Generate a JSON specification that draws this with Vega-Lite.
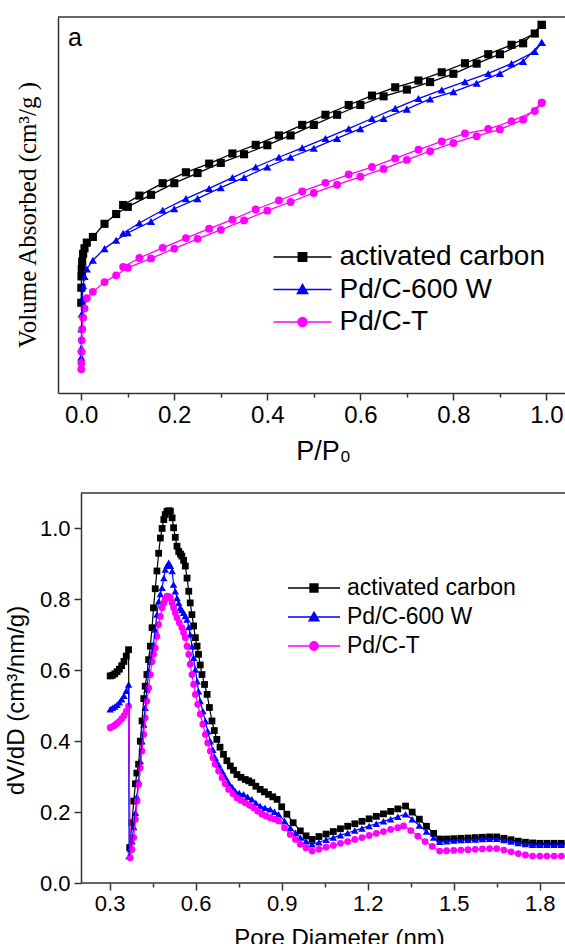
{
"$schema": "https://vega.github.io/schema/vega-lite/v6.json",
"padding": {"left": 4, "top": 16, "right": 0, "bottom": 0},
"spacing": 28,
"config": {
  "font": "Liberation Sans",
  "view": {"stroke": null},
  "axis": {"domainColor": "#333333", "domainWidth": 1.5, "tickColor": "#333333", "tickWidth": 1.5, "labelColor": "#000000", "titleColor": "#000000", "grid": false, "labelFont": "Liberation Sans", "titleFont": "Liberation Sans", "titleFontWeight": "normal"}
},
"resolve": {"scale": {"x": "independent", "y": "independent", "color": "independent"}, "legend": {"color": "independent"}},
"datasets": {
"iso": [
{"s":"activated carbon","b":"ads","P":0.00005,"V":24},{"s":"activated carbon","b":"ads","P":0.0002,"V":28},{"s":"activated carbon","b":"ads","P":0.0005,"V":31},{"s":"activated carbon","b":"ads","P":0.001,"V":33},{"s":"activated carbon","b":"ads","P":0.002,"V":35},{"s":"activated carbon","b":"ads","P":0.004,"V":37},{"s":"activated carbon","b":"ads","P":0.007,"V":38.5},{"s":"activated carbon","b":"ads","P":0.012,"V":40},{"s":"activated carbon","b":"ads","P":0.025,"V":41.5},{"s":"activated carbon","b":"ads","P":0.05,"V":45.0},{"s":"activated carbon","b":"ads","P":0.075,"V":47.6},{"s":"activated carbon","b":"ads","P":0.1,"V":49.5},{"s":"activated carbon","b":"ads","P":0.15,"V":52.7},{"s":"activated carbon","b":"ads","P":0.2,"V":55.8},{"s":"activated carbon","b":"ads","P":0.25,"V":58.5},{"s":"activated carbon","b":"ads","P":0.3,"V":61.2},{"s":"activated carbon","b":"ads","P":0.35,"V":63.5},{"s":"activated carbon","b":"ads","P":0.4,"V":65.9},{"s":"activated carbon","b":"ads","P":0.45,"V":68.5},{"s":"activated carbon","b":"ads","P":0.5,"V":71.3},{"s":"activated carbon","b":"ads","P":0.55,"V":74.0},{"s":"activated carbon","b":"ads","P":0.6,"V":76.6},{"s":"activated carbon","b":"ads","P":0.65,"V":78.9},{"s":"activated carbon","b":"ads","P":0.7,"V":80.7},{"s":"activated carbon","b":"ads","P":0.75,"V":82.7},{"s":"activated carbon","b":"ads","P":0.8,"V":84.9},{"s":"activated carbon","b":"ads","P":0.85,"V":87.6},{"s":"activated carbon","b":"ads","P":0.9,"V":90.1},{"s":"activated carbon","b":"ads","P":0.95,"V":93.0},{"s":"activated carbon","b":"ads","P":0.99,"V":97.9},
{"s":"activated carbon","b":"des","P":0.09,"V":50.0},{"s":"activated carbon","b":"des","P":0.125,"V":52.5},{"s":"activated carbon","b":"des","P":0.175,"V":55.8},{"s":"activated carbon","b":"des","P":0.225,"V":58.7},{"s":"activated carbon","b":"des","P":0.275,"V":61.0},{"s":"activated carbon","b":"des","P":0.325,"V":63.7},{"s":"activated carbon","b":"des","P":0.375,"V":66.0},{"s":"activated carbon","b":"des","P":0.425,"V":68.5},{"s":"activated carbon","b":"des","P":0.475,"V":71.3},{"s":"activated carbon","b":"des","P":0.525,"V":74.0},{"s":"activated carbon","b":"des","P":0.575,"V":76.6},{"s":"activated carbon","b":"des","P":0.625,"V":79.1},{"s":"activated carbon","b":"des","P":0.675,"V":81.3},{"s":"activated carbon","b":"des","P":0.725,"V":83.1},{"s":"activated carbon","b":"des","P":0.775,"V":85.3},{"s":"activated carbon","b":"des","P":0.825,"V":87.7},{"s":"activated carbon","b":"des","P":0.875,"V":90.1},{"s":"activated carbon","b":"des","P":0.925,"V":92.6},{"s":"activated carbon","b":"des","P":0.975,"V":95.6},{"s":"activated carbon","b":"des","P":0.99,"V":97.9},
{"s":"Pd/C-600 W","b":"ads","P":0.00005,"V":9.5},{"s":"Pd/C-600 W","b":"ads","P":0.0002,"V":12},{"s":"Pd/C-600 W","b":"ads","P":0.0005,"V":17},{"s":"Pd/C-600 W","b":"ads","P":0.001,"V":21},{"s":"Pd/C-600 W","b":"ads","P":0.002,"V":25},{"s":"Pd/C-600 W","b":"ads","P":0.004,"V":28.5},{"s":"Pd/C-600 W","b":"ads","P":0.007,"V":31},{"s":"Pd/C-600 W","b":"ads","P":0.012,"V":33},{"s":"Pd/C-600 W","b":"ads","P":0.025,"V":35.3},{"s":"Pd/C-600 W","b":"ads","P":0.05,"V":38.4},{"s":"Pd/C-600 W","b":"ads","P":0.075,"V":40.6},{"s":"Pd/C-600 W","b":"ads","P":0.1,"V":42.6},{"s":"Pd/C-600 W","b":"ads","P":0.15,"V":45.6},{"s":"Pd/C-600 W","b":"ads","P":0.2,"V":49.0},{"s":"Pd/C-600 W","b":"ads","P":0.25,"V":51.7},{"s":"Pd/C-600 W","b":"ads","P":0.3,"V":54.6},{"s":"Pd/C-600 W","b":"ads","P":0.35,"V":57.3},{"s":"Pd/C-600 W","b":"ads","P":0.4,"V":60.1},{"s":"Pd/C-600 W","b":"ads","P":0.45,"V":62.7},{"s":"Pd/C-600 W","b":"ads","P":0.5,"V":65.1},{"s":"Pd/C-600 W","b":"ads","P":0.55,"V":67.7},{"s":"Pd/C-600 W","b":"ads","P":0.6,"V":70.3},{"s":"Pd/C-600 W","b":"ads","P":0.65,"V":73.0},{"s":"Pd/C-600 W","b":"ads","P":0.7,"V":75.5},{"s":"Pd/C-600 W","b":"ads","P":0.75,"V":78.2},{"s":"Pd/C-600 W","b":"ads","P":0.8,"V":80.1},{"s":"Pd/C-600 W","b":"ads","P":0.85,"V":82.4},{"s":"Pd/C-600 W","b":"ads","P":0.9,"V":85.0},{"s":"Pd/C-600 W","b":"ads","P":0.95,"V":88.2},{"s":"Pd/C-600 W","b":"ads","P":0.99,"V":93.2},
{"s":"Pd/C-600 W","b":"des","P":0.09,"V":42.5},{"s":"Pd/C-600 W","b":"des","P":0.125,"V":45.2},{"s":"Pd/C-600 W","b":"des","P":0.175,"V":48.6},{"s":"Pd/C-600 W","b":"des","P":0.225,"V":51.7},{"s":"Pd/C-600 W","b":"des","P":0.275,"V":54.4},{"s":"Pd/C-600 W","b":"des","P":0.325,"V":57.3},{"s":"Pd/C-600 W","b":"des","P":0.375,"V":60.1},{"s":"Pd/C-600 W","b":"des","P":0.425,"V":62.7},{"s":"Pd/C-600 W","b":"des","P":0.475,"V":65.2},{"s":"Pd/C-600 W","b":"des","P":0.525,"V":67.7},{"s":"Pd/C-600 W","b":"des","P":0.575,"V":70.3},{"s":"Pd/C-600 W","b":"des","P":0.625,"V":73.0},{"s":"Pd/C-600 W","b":"des","P":0.675,"V":75.7},{"s":"Pd/C-600 W","b":"des","P":0.725,"V":78.3},{"s":"Pd/C-600 W","b":"des","P":0.775,"V":80.6},{"s":"Pd/C-600 W","b":"des","P":0.825,"V":82.8},{"s":"Pd/C-600 W","b":"des","P":0.875,"V":85.0},{"s":"Pd/C-600 W","b":"des","P":0.925,"V":87.6},{"s":"Pd/C-600 W","b":"des","P":0.975,"V":90.8},{"s":"Pd/C-600 W","b":"des","P":0.99,"V":93.2},
{"s":"Pd/C-T","b":"ads","P":0.00005,"V":6.3},{"s":"Pd/C-T","b":"ads","P":0.0002,"V":8},{"s":"Pd/C-T","b":"ads","P":0.0005,"V":11},{"s":"Pd/C-T","b":"ads","P":0.001,"V":14},{"s":"Pd/C-T","b":"ads","P":0.002,"V":17},{"s":"Pd/C-T","b":"ads","P":0.004,"V":20},{"s":"Pd/C-T","b":"ads","P":0.007,"V":22.5},{"s":"Pd/C-T","b":"ads","P":0.012,"V":25.2},{"s":"Pd/C-T","b":"ads","P":0.025,"V":26.9},{"s":"Pd/C-T","b":"ads","P":0.05,"V":29.5},{"s":"Pd/C-T","b":"ads","P":0.075,"V":31.3},{"s":"Pd/C-T","b":"ads","P":0.1,"V":33.3},{"s":"Pd/C-T","b":"ads","P":0.15,"V":35.8},{"s":"Pd/C-T","b":"ads","P":0.2,"V":38.4},{"s":"Pd/C-T","b":"ads","P":0.25,"V":41.0},{"s":"Pd/C-T","b":"ads","P":0.3,"V":43.4},{"s":"Pd/C-T","b":"ads","P":0.35,"V":45.9},{"s":"Pd/C-T","b":"ads","P":0.4,"V":48.5},{"s":"Pd/C-T","b":"ads","P":0.45,"V":50.8},{"s":"Pd/C-T","b":"ads","P":0.5,"V":53.2},{"s":"Pd/C-T","b":"ads","P":0.55,"V":55.4},{"s":"Pd/C-T","b":"ads","P":0.6,"V":57.5},{"s":"Pd/C-T","b":"ads","P":0.65,"V":59.6},{"s":"Pd/C-T","b":"ads","P":0.7,"V":62.0},{"s":"Pd/C-T","b":"ads","P":0.75,"V":64.3},{"s":"Pd/C-T","b":"ads","P":0.8,"V":66.5},{"s":"Pd/C-T","b":"ads","P":0.85,"V":68.3},{"s":"Pd/C-T","b":"ads","P":0.9,"V":70.1},{"s":"Pd/C-T","b":"ads","P":0.95,"V":72.7},{"s":"Pd/C-T","b":"ads","P":0.99,"V":77.2},
{"s":"Pd/C-T","b":"des","P":0.09,"V":33.5},{"s":"Pd/C-T","b":"des","P":0.125,"V":35.9},{"s":"Pd/C-T","b":"des","P":0.175,"V":38.6},{"s":"Pd/C-T","b":"des","P":0.225,"V":41.2},{"s":"Pd/C-T","b":"des","P":0.275,"V":43.7},{"s":"Pd/C-T","b":"des","P":0.325,"V":46.1},{"s":"Pd/C-T","b":"des","P":0.375,"V":48.8},{"s":"Pd/C-T","b":"des","P":0.425,"V":51.2},{"s":"Pd/C-T","b":"des","P":0.475,"V":53.6},{"s":"Pd/C-T","b":"des","P":0.525,"V":55.9},{"s":"Pd/C-T","b":"des","P":0.575,"V":58.1},{"s":"Pd/C-T","b":"des","P":0.625,"V":60.1},{"s":"Pd/C-T","b":"des","P":0.675,"V":62.4},{"s":"Pd/C-T","b":"des","P":0.725,"V":64.7},{"s":"Pd/C-T","b":"des","P":0.775,"V":66.9},{"s":"Pd/C-T","b":"des","P":0.825,"V":69.0},{"s":"Pd/C-T","b":"des","P":0.875,"V":70.2},{"s":"Pd/C-T","b":"des","P":0.925,"V":72.3},{"s":"Pd/C-T","b":"des","P":0.975,"V":75.0},{"s":"Pd/C-T","b":"des","P":0.99,"V":77.2}
],
"psd": [
{"s":"activated carbon","D":0.302,"v":0.584},{"s":"activated carbon","D":0.31,"v":0.586},{"s":"activated carbon","D":0.318,"v":0.59},{"s":"activated carbon","D":0.326,"v":0.596},{"s":"activated carbon","D":0.334,"v":0.603},{"s":"activated carbon","D":0.342,"v":0.613},{"s":"activated carbon","D":0.35,"v":0.625},{"s":"activated carbon","D":0.358,"v":0.64},{"s":"activated carbon","D":0.366,"v":0.658},{"s":"activated carbon","D":0.37,"v":0.1},{"s":"activated carbon","D":0.378,"v":0.17},{"s":"activated carbon","D":0.384,"v":0.231},{"s":"activated carbon","D":0.39,"v":0.28},{"s":"activated carbon","D":0.395,"v":0.31},{"s":"activated carbon","D":0.401,"v":0.335},{"s":"activated carbon","D":0.407,"v":0.4},{"s":"activated carbon","D":0.413,"v":0.457},{"s":"activated carbon","D":0.419,"v":0.52},{"s":"activated carbon","D":0.424,"v":0.555},{"s":"activated carbon","D":0.43,"v":0.588},{"s":"activated carbon","D":0.436,"v":0.63},{"s":"activated carbon","D":0.442,"v":0.668},{"s":"activated carbon","D":0.448,"v":0.72},{"s":"activated carbon","D":0.453,"v":0.776},{"s":"activated carbon","D":0.459,"v":0.83},{"s":"activated carbon","D":0.465,"v":0.88},{"s":"activated carbon","D":0.471,"v":0.93},{"s":"activated carbon","D":0.477,"v":0.973},{"s":"activated carbon","D":0.483,"v":1.0},{"s":"activated carbon","D":0.489,"v":1.025},{"s":"activated carbon","D":0.494,"v":1.039},{"s":"activated carbon","D":0.5,"v":1.048},{"s":"activated carbon","D":0.506,"v":1.05},{"s":"activated carbon","D":0.512,"v":1.049},{"s":"activated carbon","D":0.518,"v":1.03},{"s":"activated carbon","D":0.523,"v":1.002},{"s":"activated carbon","D":0.529,"v":0.975},{"s":"activated carbon","D":0.535,"v":0.95},{"s":"activated carbon","D":0.541,"v":0.935},{"s":"activated carbon","D":0.547,"v":0.928},{"s":"activated carbon","D":0.552,"v":0.922},{"s":"activated carbon","D":0.558,"v":0.91},{"s":"activated carbon","D":0.564,"v":0.894},{"s":"activated carbon","D":0.57,"v":0.86},{"s":"activated carbon","D":0.576,"v":0.823},{"s":"activated carbon","D":0.581,"v":0.79},{"s":"activated carbon","D":0.587,"v":0.757},{"s":"activated carbon","D":0.593,"v":0.725},{"s":"activated carbon","D":0.599,"v":0.692},{"s":"activated carbon","D":0.605,"v":0.668},{"s":"activated carbon","D":0.61,"v":0.645},{"s":"activated carbon","D":0.616,"v":0.615},{"s":"activated carbon","D":0.622,"v":0.588},{"s":"activated carbon","D":0.631,"v":0.56},{"s":"activated carbon","D":0.64,"v":0.532},{"s":"activated carbon","D":0.648,"v":0.495},{"s":"activated carbon","D":0.657,"v":0.457},{"s":"activated carbon","D":0.665,"v":0.43},{"s":"activated carbon","D":0.674,"v":0.405},{"s":"activated carbon","D":0.685,"v":0.383},{"s":"activated carbon","D":0.697,"v":0.363},{"s":"activated carbon","D":0.709,"v":0.345},{"s":"activated carbon","D":0.721,"v":0.33},{"s":"activated carbon","D":0.732,"v":0.318},{"s":"activated carbon","D":0.744,"v":0.306},{"s":"activated carbon","D":0.758,"v":0.298},{"s":"activated carbon","D":0.773,"v":0.292},{"s":"activated carbon","D":0.785,"v":0.288},{"s":"activated carbon","D":0.796,"v":0.283},{"s":"activated carbon","D":0.81,"v":0.273},{"s":"activated carbon","D":0.825,"v":0.264},{"s":"activated carbon","D":0.84,"v":0.257},{"s":"activated carbon","D":0.854,"v":0.25},{"s":"activated carbon","D":0.869,"v":0.243},{"s":"activated carbon","D":0.884,"v":0.236},{"s":"activated carbon","D":0.9,"v":0.215},{"s":"activated carbon","D":0.918,"v":0.194},{"s":"activated carbon","D":0.94,"v":0.17},{"s":"activated carbon","D":0.965,"v":0.147},{"s":"activated carbon","D":0.985,"v":0.133},{"s":"activated carbon","D":1.006,"v":0.123},{"s":"activated carbon","D":1.03,"v":0.131},{"s":"activated carbon","D":1.055,"v":0.138},{"s":"activated carbon","D":1.08,"v":0.145},{"s":"activated carbon","D":1.105,"v":0.153},{"s":"activated carbon","D":1.13,"v":0.16},{"s":"activated carbon","D":1.155,"v":0.167},{"s":"activated carbon","D":1.18,"v":0.174},{"s":"activated carbon","D":1.205,"v":0.181},{"s":"activated carbon","D":1.23,"v":0.188},{"s":"activated carbon","D":1.255,"v":0.195},{"s":"activated carbon","D":1.28,"v":0.202},{"s":"activated carbon","D":1.305,"v":0.209},{"s":"activated carbon","D":1.332,"v":0.217},{"s":"activated carbon","D":1.355,"v":0.2},{"s":"activated carbon","D":1.38,"v":0.18},{"s":"activated carbon","D":1.405,"v":0.16},{"s":"activated carbon","D":1.43,"v":0.14},{"s":"activated carbon","D":1.451,"v":0.124},{"s":"activated carbon","D":1.475,"v":0.124},{"s":"activated carbon","D":1.5,"v":0.125},{"s":"activated carbon","D":1.525,"v":0.126},{"s":"activated carbon","D":1.55,"v":0.127},{"s":"activated carbon","D":1.575,"v":0.128},{"s":"activated carbon","D":1.6,"v":0.129},{"s":"activated carbon","D":1.625,"v":0.13},{"s":"activated carbon","D":1.65,"v":0.13},{"s":"activated carbon","D":1.675,"v":0.126},{"s":"activated carbon","D":1.7,"v":0.122},{"s":"activated carbon","D":1.725,"v":0.118},{"s":"activated carbon","D":1.75,"v":0.115},{"s":"activated carbon","D":1.775,"v":0.113},{"s":"activated carbon","D":1.8,"v":0.112},{"s":"activated carbon","D":1.825,"v":0.112},{"s":"activated carbon","D":1.85,"v":0.112},{"s":"activated carbon","D":1.875,"v":0.112},{"s":"activated carbon","D":1.9,"v":0.112},
{"s":"Pd/C-600 W","D":0.302,"v":0.49},{"s":"Pd/C-600 W","D":0.31,"v":0.494},{"s":"Pd/C-600 W","D":0.318,"v":0.498},{"s":"Pd/C-600 W","D":0.326,"v":0.503},{"s":"Pd/C-600 W","D":0.334,"v":0.51},{"s":"Pd/C-600 W","D":0.342,"v":0.518},{"s":"Pd/C-600 W","D":0.35,"v":0.528},{"s":"Pd/C-600 W","D":0.358,"v":0.542},{"s":"Pd/C-600 W","D":0.366,"v":0.56},{"s":"Pd/C-600 W","D":0.368,"v":0.076},{"s":"Pd/C-600 W","D":0.373,"v":0.095},{"s":"Pd/C-600 W","D":0.378,"v":0.118},{"s":"Pd/C-600 W","D":0.384,"v":0.158},{"s":"Pd/C-600 W","D":0.39,"v":0.198},{"s":"Pd/C-600 W","D":0.395,"v":0.243},{"s":"Pd/C-600 W","D":0.401,"v":0.288},{"s":"Pd/C-600 W","D":0.407,"v":0.344},{"s":"Pd/C-600 W","D":0.413,"v":0.4},{"s":"Pd/C-600 W","D":0.419,"v":0.447},{"s":"Pd/C-600 W","D":0.424,"v":0.494},{"s":"Pd/C-600 W","D":0.43,"v":0.546},{"s":"Pd/C-600 W","D":0.436,"v":0.598},{"s":"Pd/C-600 W","D":0.442,"v":0.625},{"s":"Pd/C-600 W","D":0.448,"v":0.65},{"s":"Pd/C-600 W","D":0.453,"v":0.673},{"s":"Pd/C-600 W","D":0.459,"v":0.715},{"s":"Pd/C-600 W","D":0.465,"v":0.757},{"s":"Pd/C-600 W","D":0.471,"v":0.795},{"s":"Pd/C-600 W","D":0.477,"v":0.815},{"s":"Pd/C-600 W","D":0.483,"v":0.833},{"s":"Pd/C-600 W","D":0.489,"v":0.86},{"s":"Pd/C-600 W","D":0.494,"v":0.884},{"s":"Pd/C-600 W","D":0.5,"v":0.895},{"s":"Pd/C-600 W","D":0.506,"v":0.903},{"s":"Pd/C-600 W","D":0.512,"v":0.895},{"s":"Pd/C-600 W","D":0.518,"v":0.88},{"s":"Pd/C-600 W","D":0.523,"v":0.842},{"s":"Pd/C-600 W","D":0.529,"v":0.823},{"s":"Pd/C-600 W","D":0.535,"v":0.804},{"s":"Pd/C-600 W","D":0.541,"v":0.79},{"s":"Pd/C-600 W","D":0.546,"v":0.776},{"s":"Pd/C-600 W","D":0.552,"v":0.77},{"s":"Pd/C-600 W","D":0.558,"v":0.762},{"s":"Pd/C-600 W","D":0.564,"v":0.753},{"s":"Pd/C-600 W","D":0.57,"v":0.743},{"s":"Pd/C-600 W","D":0.576,"v":0.722},{"s":"Pd/C-600 W","D":0.581,"v":0.701},{"s":"Pd/C-600 W","D":0.587,"v":0.668},{"s":"Pd/C-600 W","D":0.593,"v":0.635},{"s":"Pd/C-600 W","D":0.599,"v":0.602},{"s":"Pd/C-600 W","D":0.605,"v":0.569},{"s":"Pd/C-600 W","D":0.61,"v":0.541},{"s":"Pd/C-600 W","D":0.616,"v":0.513},{"s":"Pd/C-600 W","D":0.625,"v":0.485},{"s":"Pd/C-600 W","D":0.634,"v":0.457},{"s":"Pd/C-600 W","D":0.642,"v":0.428},{"s":"Pd/C-600 W","D":0.651,"v":0.4},{"s":"Pd/C-600 W","D":0.66,"v":0.376},{"s":"Pd/C-600 W","D":0.668,"v":0.353},{"s":"Pd/C-600 W","D":0.68,"v":0.334},{"s":"Pd/C-600 W","D":0.692,"v":0.316},{"s":"Pd/C-600 W","D":0.703,"v":0.3},{"s":"Pd/C-600 W","D":0.715,"v":0.283},{"s":"Pd/C-600 W","D":0.727,"v":0.271},{"s":"Pd/C-600 W","D":0.738,"v":0.259},{"s":"Pd/C-600 W","D":0.752,"v":0.254},{"s":"Pd/C-600 W","D":0.767,"v":0.25},{"s":"Pd/C-600 W","D":0.781,"v":0.243},{"s":"Pd/C-600 W","D":0.796,"v":0.236},{"s":"Pd/C-600 W","D":0.81,"v":0.226},{"s":"Pd/C-600 W","D":0.825,"v":0.217},{"s":"Pd/C-600 W","D":0.842,"v":0.212},{"s":"Pd/C-600 W","D":0.86,"v":0.208},{"s":"Pd/C-600 W","D":0.875,"v":0.201},{"s":"Pd/C-600 W","D":0.889,"v":0.194},{"s":"Pd/C-600 W","D":0.91,"v":0.175},{"s":"Pd/C-600 W","D":0.93,"v":0.156},{"s":"Pd/C-600 W","D":0.948,"v":0.142},{"s":"Pd/C-600 W","D":0.965,"v":0.128},{"s":"Pd/C-600 W","D":0.985,"v":0.118},{"s":"Pd/C-600 W","D":1.006,"v":0.109},{"s":"Pd/C-600 W","D":1.03,"v":0.115},{"s":"Pd/C-600 W","D":1.055,"v":0.122},{"s":"Pd/C-600 W","D":1.08,"v":0.128},{"s":"Pd/C-600 W","D":1.105,"v":0.135},{"s":"Pd/C-600 W","D":1.13,"v":0.141},{"s":"Pd/C-600 W","D":1.155,"v":0.148},{"s":"Pd/C-600 W","D":1.18,"v":0.154},{"s":"Pd/C-600 W","D":1.205,"v":0.161},{"s":"Pd/C-600 W","D":1.23,"v":0.167},{"s":"Pd/C-600 W","D":1.255,"v":0.174},{"s":"Pd/C-600 W","D":1.28,"v":0.18},{"s":"Pd/C-600 W","D":1.305,"v":0.187},{"s":"Pd/C-600 W","D":1.332,"v":0.194},{"s":"Pd/C-600 W","D":1.355,"v":0.18},{"s":"Pd/C-600 W","D":1.38,"v":0.162},{"s":"Pd/C-600 W","D":1.405,"v":0.145},{"s":"Pd/C-600 W","D":1.43,"v":0.128},{"s":"Pd/C-600 W","D":1.451,"v":0.116},{"s":"Pd/C-600 W","D":1.475,"v":0.118},{"s":"Pd/C-600 W","D":1.5,"v":0.12},{"s":"Pd/C-600 W","D":1.525,"v":0.121},{"s":"Pd/C-600 W","D":1.55,"v":0.122},{"s":"Pd/C-600 W","D":1.575,"v":0.123},{"s":"Pd/C-600 W","D":1.6,"v":0.124},{"s":"Pd/C-600 W","D":1.625,"v":0.125},{"s":"Pd/C-600 W","D":1.65,"v":0.125},{"s":"Pd/C-600 W","D":1.675,"v":0.121},{"s":"Pd/C-600 W","D":1.7,"v":0.117},{"s":"Pd/C-600 W","D":1.725,"v":0.113},{"s":"Pd/C-600 W","D":1.75,"v":0.11},{"s":"Pd/C-600 W","D":1.775,"v":0.108},{"s":"Pd/C-600 W","D":1.8,"v":0.108},{"s":"Pd/C-600 W","D":1.825,"v":0.108},{"s":"Pd/C-600 W","D":1.85,"v":0.108},{"s":"Pd/C-600 W","D":1.875,"v":0.108},{"s":"Pd/C-600 W","D":1.9,"v":0.108},
{"s":"Pd/C-T","D":0.302,"v":0.438},{"s":"Pd/C-T","D":0.31,"v":0.441},{"s":"Pd/C-T","D":0.318,"v":0.445},{"s":"Pd/C-T","D":0.326,"v":0.45},{"s":"Pd/C-T","D":0.334,"v":0.456},{"s":"Pd/C-T","D":0.342,"v":0.463},{"s":"Pd/C-T","D":0.35,"v":0.472},{"s":"Pd/C-T","D":0.358,"v":0.484},{"s":"Pd/C-T","D":0.366,"v":0.499},{"s":"Pd/C-T","D":0.372,"v":0.071},{"s":"Pd/C-T","D":0.378,"v":0.095},{"s":"Pd/C-T","D":0.384,"v":0.128},{"s":"Pd/C-T","D":0.39,"v":0.18},{"s":"Pd/C-T","D":0.396,"v":0.231},{"s":"Pd/C-T","D":0.401,"v":0.278},{"s":"Pd/C-T","D":0.407,"v":0.325},{"s":"Pd/C-T","D":0.413,"v":0.372},{"s":"Pd/C-T","D":0.419,"v":0.419},{"s":"Pd/C-T","D":0.424,"v":0.466},{"s":"Pd/C-T","D":0.43,"v":0.513},{"s":"Pd/C-T","D":0.436,"v":0.55},{"s":"Pd/C-T","D":0.442,"v":0.588},{"s":"Pd/C-T","D":0.448,"v":0.625},{"s":"Pd/C-T","D":0.453,"v":0.645},{"s":"Pd/C-T","D":0.459,"v":0.663},{"s":"Pd/C-T","D":0.465,"v":0.696},{"s":"Pd/C-T","D":0.471,"v":0.729},{"s":"Pd/C-T","D":0.477,"v":0.752},{"s":"Pd/C-T","D":0.483,"v":0.776},{"s":"Pd/C-T","D":0.489,"v":0.79},{"s":"Pd/C-T","D":0.494,"v":0.8},{"s":"Pd/C-T","D":0.5,"v":0.809},{"s":"Pd/C-T","D":0.506,"v":0.808},{"s":"Pd/C-T","D":0.512,"v":0.804},{"s":"Pd/C-T","D":0.518,"v":0.79},{"s":"Pd/C-T","D":0.523,"v":0.776},{"s":"Pd/C-T","D":0.529,"v":0.762},{"s":"Pd/C-T","D":0.535,"v":0.748},{"s":"Pd/C-T","D":0.543,"v":0.734},{"s":"Pd/C-T","D":0.552,"v":0.72},{"s":"Pd/C-T","D":0.558,"v":0.706},{"s":"Pd/C-T","D":0.564,"v":0.692},{"s":"Pd/C-T","D":0.57,"v":0.668},{"s":"Pd/C-T","D":0.576,"v":0.645},{"s":"Pd/C-T","D":0.581,"v":0.617},{"s":"Pd/C-T","D":0.587,"v":0.588},{"s":"Pd/C-T","D":0.593,"v":0.56},{"s":"Pd/C-T","D":0.599,"v":0.532},{"s":"Pd/C-T","D":0.607,"v":0.504},{"s":"Pd/C-T","D":0.616,"v":0.476},{"s":"Pd/C-T","D":0.625,"v":0.448},{"s":"Pd/C-T","D":0.634,"v":0.419},{"s":"Pd/C-T","D":0.642,"v":0.395},{"s":"Pd/C-T","D":0.651,"v":0.372},{"s":"Pd/C-T","D":0.66,"v":0.353},{"s":"Pd/C-T","D":0.668,"v":0.335},{"s":"Pd/C-T","D":0.68,"v":0.316},{"s":"Pd/C-T","D":0.692,"v":0.297},{"s":"Pd/C-T","D":0.703,"v":0.28},{"s":"Pd/C-T","D":0.715,"v":0.264},{"s":"Pd/C-T","D":0.73,"v":0.252},{"s":"Pd/C-T","D":0.744,"v":0.24},{"s":"Pd/C-T","D":0.758,"v":0.233},{"s":"Pd/C-T","D":0.773,"v":0.226},{"s":"Pd/C-T","D":0.788,"v":0.219},{"s":"Pd/C-T","D":0.802,"v":0.212},{"s":"Pd/C-T","D":0.816,"v":0.203},{"s":"Pd/C-T","D":0.831,"v":0.194},{"s":"Pd/C-T","D":0.845,"v":0.189},{"s":"Pd/C-T","D":0.86,"v":0.184},{"s":"Pd/C-T","D":0.875,"v":0.18},{"s":"Pd/C-T","D":0.889,"v":0.175},{"s":"Pd/C-T","D":0.91,"v":0.156},{"s":"Pd/C-T","D":0.93,"v":0.137},{"s":"Pd/C-T","D":0.948,"v":0.123},{"s":"Pd/C-T","D":0.965,"v":0.109},{"s":"Pd/C-T","D":0.985,"v":0.099},{"s":"Pd/C-T","D":1.006,"v":0.09},{"s":"Pd/C-T","D":1.03,"v":0.095},{"s":"Pd/C-T","D":1.055,"v":0.101},{"s":"Pd/C-T","D":1.08,"v":0.106},{"s":"Pd/C-T","D":1.105,"v":0.112},{"s":"Pd/C-T","D":1.13,"v":0.117},{"s":"Pd/C-T","D":1.155,"v":0.123},{"s":"Pd/C-T","D":1.18,"v":0.128},{"s":"Pd/C-T","D":1.205,"v":0.134},{"s":"Pd/C-T","D":1.23,"v":0.14},{"s":"Pd/C-T","D":1.255,"v":0.145},{"s":"Pd/C-T","D":1.28,"v":0.151},{"s":"Pd/C-T","D":1.305,"v":0.156},{"s":"Pd/C-T","D":1.325,"v":0.161},{"s":"Pd/C-T","D":1.35,"v":0.148},{"s":"Pd/C-T","D":1.375,"v":0.132},{"s":"Pd/C-T","D":1.4,"v":0.117},{"s":"Pd/C-T","D":1.425,"v":0.103},{"s":"Pd/C-T","D":1.451,"v":0.09},{"s":"Pd/C-T","D":1.475,"v":0.091},{"s":"Pd/C-T","D":1.5,"v":0.092},{"s":"Pd/C-T","D":1.525,"v":0.093},{"s":"Pd/C-T","D":1.55,"v":0.094},{"s":"Pd/C-T","D":1.575,"v":0.095},{"s":"Pd/C-T","D":1.6,"v":0.096},{"s":"Pd/C-T","D":1.625,"v":0.097},{"s":"Pd/C-T","D":1.65,"v":0.097},{"s":"Pd/C-T","D":1.675,"v":0.093},{"s":"Pd/C-T","D":1.7,"v":0.088},{"s":"Pd/C-T","D":1.725,"v":0.083},{"s":"Pd/C-T","D":1.75,"v":0.079},{"s":"Pd/C-T","D":1.775,"v":0.076},{"s":"Pd/C-T","D":1.8,"v":0.076},{"s":"Pd/C-T","D":1.825,"v":0.076},{"s":"Pd/C-T","D":1.85,"v":0.076},{"s":"Pd/C-T","D":1.875,"v":0.076},{"s":"Pd/C-T","D":1.9,"v":0.076}
]
},
"vconcat": [
{
  "width": 507,
  "height": 376,
  "layer": [
    {
      "data": {"name": "iso"},
      "transform": [{"filter": "datum.s === 'activated carbon'"}],
      "mark": {"type": "point", "filled": true, "opacity": 1, "size": 66, "shape": "square"},
      "encoding": {
        "x": {"field": "P", "type": "quantitative",
          "scale": {"domain": [-0.05, 1.04], "nice": false, "zero": false},
          "axis": {"values": [0, 0.1, 0.2, 0.3, 0.4, 0.5, 0.6, 0.7, 0.8, 0.9, 1.0], "format": ".1f",
            "labelExpr": "abs(datum.value*5-round(datum.value*5))<0.001 ? datum.label : ''",
            "labelOverlap": false, "labelFlush": false, "labelFontSize": 24, "labelPadding": 3,
            "tickSize": {"condition": {"test": "abs(datum.value*5-round(datum.value*5))<0.001", "value": 7}, "value": 4},
            "title": "P/P₀", "titleFontSize": 27, "titleX": 265, "titleY": 66, "titleBaseline": "alphabetic", "titleAlign": "center"}},
        "y": {"field": "V", "type": "quantitative",
          "scale": {"domain": [0, 100], "nice": false, "zero": false},
          "axis": {"labels": false, "ticks": false, "title": "Volume Absorbed (cm³/g )", "titleFont": "Liberation Serif", "titleFontSize": 25, "titleX": -22.7, "titleY": 197.5, "titleBaseline": "alphabetic", "titleAlign": "center"}},
        "color": {"field": "s", "type": "nominal", "scale": {"domain": ["activated carbon", "Pd/C-600 W", "Pd/C-T"], "range": ["#000000", "#0000ff", "#ff00ff"]},
          "legend": {"orient": "none", "legendX": 230.5, "legendY": 226, "title": null, "padding": 0, "symbolSize": 100, "labelFontSize": 28, "labelFont": "Liberation Sans", "labelColor": "#000000", "labelOffset": 23, "labelLimit": 400, "rowPadding": 4.5, "symbolStrokeWidth": 1.3, "symbolOpacity": 1,
            "symbolType": {"expr": "datum.value === 'activated carbon' ? 'M-5.8,0H5.8M-0.85,-0.85H0.85V0.85H-0.85Z' : datum.value === 'Pd/C-600 W' ? 'M-5.8,0H5.8M0,-1.05L1.05,0.8H-1.05Z' : 'M-5.8,0H5.8M-0.9,0A0.9,0.9,0,1,0,0.9,0A0.9,0.9,0,1,0,-0.9,0Z'"}}}
      }
    },
    {
      "data": {"name": "iso"},
      "transform": [{"filter": "datum.s === 'Pd/C-600 W'"}],
      "mark": {"type": "point", "filled": true, "opacity": 1, "size": 66, "shape": "triangle-up"},
      "encoding": {
        "x": {"field": "P", "type": "quantitative"},
        "y": {"field": "V", "type": "quantitative"},
        "color": {"field": "s", "type": "nominal", "scale": {"domain": ["activated carbon", "Pd/C-600 W", "Pd/C-T"], "range": ["#000000", "#0000ff", "#ff00ff"]}}
      }
    },
    {
      "data": {"name": "iso"},
      "transform": [{"filter": "datum.s === 'Pd/C-T'"}],
      "mark": {"type": "point", "filled": true, "opacity": 1, "size": 62, "shape": "circle"},
      "encoding": {
        "x": {"field": "P", "type": "quantitative"},
        "y": {"field": "V", "type": "quantitative"},
        "color": {"field": "s", "type": "nominal", "scale": {"domain": ["activated carbon", "Pd/C-600 W", "Pd/C-T"], "range": ["#000000", "#0000ff", "#ff00ff"]}}
      }
    },
    {
      "data": {"name": "iso"},
      "mark": {"type": "line", "strokeWidth": 1.3},
      "encoding": {
        "x": {"field": "P", "type": "quantitative"},
        "y": {"field": "V", "type": "quantitative"},
        "color": {"field": "s", "type": "nominal", "scale": {"domain": ["activated carbon", "Pd/C-600 W", "Pd/C-T"], "range": ["#000000", "#0000ff", "#ff00ff"]}},
        "detail": {"field": "b", "type": "nominal"}
      }
    },
    {
      "data": {"values": [{}]},
      "mark": {"type": "rule", "color": "#333333", "strokeWidth": 1.5},
      "encoding": {
        "x": {"datum": -0.05, "type": "quantitative"},
        "x2": {"datum": 1.04},
        "y": {"datum": 100, "type": "quantitative"}
      }
    },
    {
      "data": {"values": [{"label": "a"}]},
      "mark": {"type": "text", "fontSize": 25, "font": "Liberation Sans", "align": "left", "baseline": "alphabetic", "color": "#000000"},
      "encoding": {
        "x": {"datum": -0.0285, "type": "quantitative"},
        "y": {"datum": 92.3, "type": "quantitative"},
        "text": {"field": "label"}
      }
    }
  ]
},
{
  "width": 507,
  "height": 390,
  "layer": [
    {
      "data": {"name": "psd"},
      "transform": [{"filter": "datum.s === 'activated carbon'"}],
      "mark": {"type": "point", "filled": true, "opacity": 1, "size": 46, "shape": "square", "clip": true},
      "encoding": {
        "x": {"field": "D", "type": "quantitative",
          "scale": {"domain": [0.12, 1.888], "nice": false, "zero": false},
          "axis": {"values": [0.3, 0.45, 0.6, 0.75, 0.9, 1.05, 1.2, 1.35, 1.5, 1.65, 1.8], "format": ".1f", "domain": false,
            "labelExpr": "abs(datum.value/0.3-round(datum.value/0.3))<0.001 ? datum.label : ''",
            "labelOverlap": false, "labelFlush": false, "labelFontSize": 22, "labelPadding": 3,
            "tickSize": {"condition": {"test": "abs(datum.value/0.3-round(datum.value/0.3))<0.001", "value": 7}, "value": 4},
            "title": "Pore Diameter (nm)", "titleFontSize": 24, "titleX": 281, "titleY": 62, "titleBaseline": "alphabetic", "titleAlign": "center"}},
        "y": {"field": "v", "type": "quantitative",
          "scale": {"domain": [0, 1.1], "nice": false, "zero": false},
          "axis": {"values": [0, 0.1, 0.2, 0.3, 0.4, 0.5, 0.6, 0.7, 0.8, 0.9, 1.0], "format": ".1f", "offset": -23,
            "labelExpr": "abs(datum.value*5-round(datum.value*5))<0.001 ? datum.label : ''",
            "labelOverlap": false, "labelFlush": false, "labelFontSize": 22, "labelPadding": 4,
            "tickSize": {"condition": {"test": "abs(datum.value*5-round(datum.value*5))<0.001", "value": 7}, "value": 4},
            "title": "dV/dD (cm³/nm/g)", "titleFontSize": 24, "titleX": -57.3, "titleY": 207, "titleBaseline": "alphabetic", "titleAlign": "center"}},
        "color": {"field": "s", "type": "nominal", "scale": {"domain": ["activated carbon", "Pd/C-600 W", "Pd/C-T"], "range": ["#000000", "#0000ff", "#ff00ff"]},
          "legend": {"orient": "none", "legendX": 244.5, "legendY": 83.5, "title": null, "padding": 0, "symbolSize": 100, "labelFontSize": 23, "labelFont": "Liberation Sans", "labelColor": "#000000", "labelOffset": 21.5, "labelLimit": 400, "rowPadding": 5, "symbolStrokeWidth": 1.3, "symbolOpacity": 1,
            "symbolType": {"expr": "datum.value === 'activated carbon' ? 'M-5.2,0H5.2M-0.8,-0.8H0.8V0.8H-0.8Z' : datum.value === 'Pd/C-600 W' ? 'M-5.2,0H5.2M0,-1.0L1.0,0.75H-1.0Z' : 'M-5.2,0H5.2M-0.85,0A0.85,0.85,0,1,0,0.85,0A0.85,0.85,0,1,0,-0.85,0Z'"}}}
      }
    },
    {
      "data": {"name": "psd"},
      "transform": [{"filter": "datum.s === 'Pd/C-600 W'"}],
      "mark": {"type": "point", "filled": true, "opacity": 1, "size": 56, "shape": "triangle-up", "clip": true},
      "encoding": {
        "x": {"field": "D", "type": "quantitative"},
        "y": {"field": "v", "type": "quantitative"},
        "color": {"field": "s", "type": "nominal", "scale": {"domain": ["activated carbon", "Pd/C-600 W", "Pd/C-T"], "range": ["#000000", "#0000ff", "#ff00ff"]}}
      }
    },
    {
      "data": {"name": "psd"},
      "transform": [{"filter": "datum.s === 'Pd/C-T'"}],
      "mark": {"type": "point", "filled": true, "opacity": 1, "size": 46, "shape": "circle", "clip": true},
      "encoding": {
        "x": {"field": "D", "type": "quantitative"},
        "y": {"field": "v", "type": "quantitative"},
        "color": {"field": "s", "type": "nominal", "scale": {"domain": ["activated carbon", "Pd/C-600 W", "Pd/C-T"], "range": ["#000000", "#0000ff", "#ff00ff"]}}
      }
    },
    {
      "data": {"name": "psd"},
      "mark": {"type": "line", "strokeWidth": 1.2, "clip": true},
      "encoding": {
        "x": {"field": "D", "type": "quantitative"},
        "y": {"field": "v", "type": "quantitative"},
        "color": {"field": "s", "type": "nominal", "scale": {"domain": ["activated carbon", "Pd/C-600 W", "Pd/C-T"], "range": ["#000000", "#0000ff", "#ff00ff"]}}
      }
    },
    {
      "data": {"values": [{"yv": 1.1}, {"yv": 0}]},
      "mark": {"type": "rule", "color": "#333333", "strokeWidth": 1.5},
      "encoding": {
        "x": {"datum": 0.2, "type": "quantitative"},
        "x2": {"datum": 1.888},
        "y": {"field": "yv", "type": "quantitative"}
      }
    }
  ]
}
]
}
